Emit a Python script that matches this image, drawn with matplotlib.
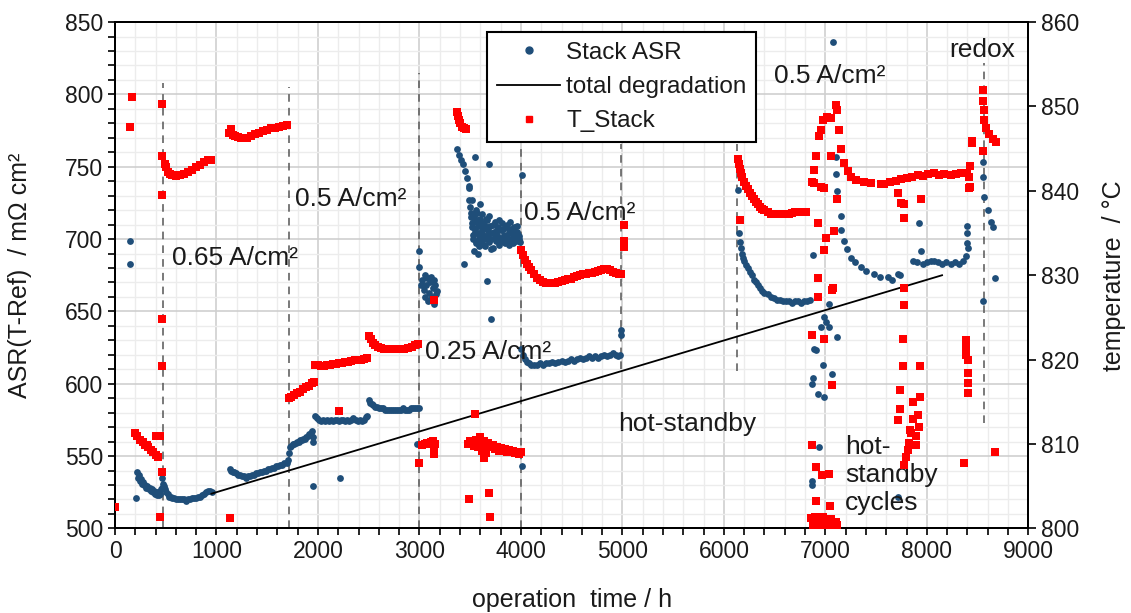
import matplotlib
matplotlib.use("Agg")
import matplotlib.pyplot as plt
from matplotlib.ticker import MultipleLocator
from matplotlib.lines import Line2D

# Stack ASR (left axis), operation time in h and mOhm cm2
asr_hours = [
    148, 150, 205,
    220, 230, 240, 250, 260, 270, 280, 290, 300, 310, 320, 330, 340, 350, 360, 370, 380, 390,
    400, 410, 420, 430, 440, 450, 460, 467, 475,
    485, 495, 505, 520, 535, 550, 565, 580, 600, 620, 640, 660, 680, 700, 720, 740, 760, 780,
    800, 820, 840, 860, 880, 900, 920, 940, 955,
    1130, 1145, 1160, 1175, 1190, 1210, 1230, 1250, 1270, 1290, 1310, 1330, 1350, 1370, 1390,
    1410, 1430, 1450, 1470, 1490, 1510, 1530, 1550, 1570, 1590, 1610, 1630, 1650, 1670, 1690, 1705,
    1712, 1720, 1735, 1750, 1765, 1780, 1795, 1810, 1825, 1840, 1855, 1870, 1885, 1900, 1915,
    1930, 1945, 1950, 1955, 1950,
    1970, 1990, 2010, 2030, 2050, 2070, 2090, 2110, 2130, 2150, 2170, 2190, 2210, 2230, 2250,
    2270, 2290, 2310, 2330, 2350, 2370, 2390, 2410, 2430, 2450, 2470, 2485, 2213,
    2500, 2515, 2530, 2545, 2560, 2580, 2600, 2620, 2640, 2660, 2680, 2700, 2720, 2740, 2760,
    2780, 2800, 2820, 2840, 2860, 2880, 2900, 2920, 2940, 2960, 2980, 2995, 2975,
    2992, 2992, 3030, 3040, 3050, 3060, 3070, 3080, 3090, 3100, 3110, 3120, 3130, 3140, 3150,
    3160, 3050, 3100, 3140, 3170, 3020,
    3370, 3390, 3410, 3430, 3450, 3470, 3490, 3486, 3486, 3550, 3683, 3442, 3667, 3709,
    3500, 3510, 3520, 3530, 3540, 3550, 3560, 3570, 3580, 3590, 3600, 3610, 3620, 3630, 3640,
    3650, 3660, 3670, 3680, 3690, 3700, 3710, 3720, 3730, 3740, 3750, 3760, 3770, 3780, 3790,
    3800, 3810, 3820, 3830, 3840, 3850, 3860, 3870, 3880, 3890, 3900, 3910, 3920, 3930, 3940,
    3950, 3960, 3970, 3980, 3990, 3520, 3560, 3600, 3540, 3580, 4011,
    3505, 3515, 3525, 3535, 3545, 3555, 3565, 3575, 3585, 3595, 3605, 3615, 3625, 3635, 3645,
    3655, 3665, 3675, 3685, 3695, 3705, 3725, 3745, 3765, 3785, 3805, 3825, 3845, 3865, 3885,
    3905, 3925, 3945, 3965, 3985,
    4011, 4000, 4020, 4040, 4060, 4080, 4100, 4130, 4160, 4190, 4220, 4250, 4280, 4310, 4340,
    4370, 4400, 4430, 4460, 4490, 4520, 4550, 4580, 4610, 4640, 4670, 4700, 4730, 4760, 4790,
    4820, 4850, 4880, 4910, 4940, 4960, 4980, 4982, 4982,
    6136, 6150, 6160, 6170, 6180, 6190, 6200, 6220, 6240, 6260, 6280, 6300, 6320, 6340, 6360,
    6380, 6400, 6430, 6460, 6490, 6520, 6550, 6580, 6610, 6640, 6670, 6700, 6730, 6760, 6790,
    6820, 6850,
    6882, 6889, 6879, 6923, 6988, 6978, 7064, 6938, 6873, 6873, 7005, 6955, 7037, 7119, 6906,
    6988, 7040, 6870,
    7071, 7103, 7103, 7119, 7150, 7150, 7183, 7210, 7249, 7290, 7350, 7400, 7481, 7540, 7613,
    7660, 7712, 7740,
    7860, 7900, 7939, 7922, 7960, 8000, 8040, 8072, 8110, 8150, 8190, 8238, 8280, 8320, 8360,
    8386, 8400, 8400, 8400, 8405, 7712,
    8557, 8557, 8567, 8600, 8633, 8649, 8557, 8672]
asr_values = [
    699, 683, 521,
    539, 535, 537, 533, 534, 531, 532, 530, 530, 528, 529, 527, 528, 526, 527, 525, 526, 524,
    525, 523, 525, 523, 524, 527, 528, 535, 531,
    529, 527, 525, 524, 522, 522, 521, 521, 520, 520, 520, 520, 520, 519, 520, 520, 521, 521,
    521, 522, 522, 523, 524, 525, 526, 526, 525,
    541, 540, 539, 539, 538, 537, 537, 536, 536, 535, 536, 536, 537, 537, 538,
    538, 539, 539, 540, 540, 541, 541, 542, 542, 543, 543, 544, 544, 545, 545, 547,
    552, 556, 557, 558, 558, 559, 560, 560, 561, 561, 562, 562, 563, 564, 565,
    566, 567, 560, 563, 529,
    578, 576, 575, 574, 575, 574, 575, 574, 575, 574, 575, 575, 574, 575, 575,
    574, 575, 574, 575, 576, 575, 574, 575, 574, 575, 577, 578, 535,
    589, 587, 586, 585, 584, 584, 583, 583, 583, 582, 582, 582, 582, 582, 582,
    582, 582, 582, 583, 582, 582, 582, 583, 583, 583, 583, 583, 558,
    692, 681, 672, 665, 660, 668, 673, 657, 663, 670, 674, 660, 666, 655, 668,
    662, 675, 658, 672, 664, 668,
    762, 758, 755, 752, 747, 742, 735, 737, 727, 757, 752, 683, 671, 645,
    722, 715, 708, 700, 712, 705, 697, 718, 709, 702, 714, 698, 706, 711, 700,
    695, 707, 713, 703, 698, 709, 700, 694, 705, 712, 699, 703, 708, 696, 701,
    706, 711, 699, 703, 697, 708, 702, 698, 705, 712, 700, 704, 697, 708, 701,
    699, 705, 703, 700, 698, 727, 720, 724, 692, 690, 744,
    718, 711, 703, 716, 707, 699, 713, 704, 695, 710, 701, 717, 703, 696, 709,
    714, 700, 706, 716, 704, 693, 710, 702, 706, 713, 699, 707, 701, 710, 696,
    707, 701, 704, 709, 702,
    543, 624, 620, 617, 615, 614, 613, 613, 613, 614, 613, 614, 614, 615, 614,
    615, 616, 615, 616, 617, 616, 617, 618, 617, 618, 619, 618, 619, 618, 619,
    620, 619, 620, 621, 620, 619, 620, 637, 634,
    734, 704, 698, 694, 690, 687, 685, 682, 680, 677, 675, 672, 670, 668, 666,
    664, 663, 662, 660, 659, 658, 658, 657, 657, 657, 656, 657, 657, 656, 657,
    657, 658,
    689, 624, 604, 593, 591, 613, 607, 556, 533, 530, 643, 639, 639, 632, 623,
    646, 655, 600,
    836, 757, 745, 733, 716, 706, 699, 693, 687, 684, 681, 678, 676, 674, 674,
    672, 676, 675,
    685, 684, 692, 711, 683, 684, 685, 685, 684, 683, 684, 683, 684, 683, 685,
    688, 704, 697, 709, 694, 522,
    753, 743, 729, 720, 712, 708, 657, 673]

# T_Stack (right axis), operation time in h and deg C
stack_hours = [
    0, 165, 150,
    197, 220, 250, 275, 300, 325, 350, 375, 400, 425, 312, 401, 444,
    466, 466, 466, 466, 466, 466, 444,
    490, 500, 520, 540, 560, 600, 640, 680, 720, 760, 800, 840, 880, 920, 950,
    1134,
    1120, 1140, 1160, 1180, 1210, 1240, 1270, 1300, 1340, 1380, 1420, 1460, 1500, 1540, 1580,
    1620, 1660, 1690,
    1710, 1730, 1760, 1790, 1820, 1850, 1880, 1910, 1940, 1960,
    1970, 2000, 2030, 2060, 2090, 2120, 2150, 2180, 2210, 2240, 2270, 2300, 2330, 2360, 2390,
    2420, 2450, 2480, 2204,
    2500, 2520, 2540, 2560, 2590, 2620, 2650, 2690, 2730, 2770, 2810, 2850, 2890, 2930, 2960, 2990,
    2993, 3030, 3050, 3070, 3090, 3110, 3130, 3140, 3140, 3150, 3146,
    3370, 3380, 3390, 3400, 3420, 3440, 3460,
    3551, 3486, 3683, 3699,
    3480, 3500, 3520, 3540, 3560, 3580, 3600, 3610, 3620, 3640, 3650, 3660, 3680, 3700, 3720,
    3740, 3760, 3780, 3800, 3820, 3840, 3860, 3880, 3900, 3920, 3940, 3960, 3980, 4000, 3640,
    4000, 4020, 4040, 4060, 4080, 4100, 4130, 4160, 4190, 4220, 4250, 4280, 4310, 4340, 4370,
    4400, 4430, 4460, 4490, 4520, 4550, 4580, 4610, 4640, 4670, 4700, 4730, 4760, 4790, 4820,
    4850, 4880, 4910, 4940, 4970, 4990, 5015, 5015, 5015,
    6140, 6150, 6160, 6170, 6180, 6200, 6220, 6240, 6260, 6280, 6300, 6320, 6340, 6360, 6380,
    6400, 6430, 6460, 6490, 6520, 6550, 6580, 6610, 6640, 6670, 6700, 6730, 6760, 6790, 6810,
    6156,
    6873, 6889, 6906, 6938, 6955, 6981, 7021, 7054, 7103, 7119, 6889, 6955, 6988, 7055,
    6923, 7005, 7087, 6988, 6923, 7071, 7113,
    7136, 7152, 7185, 7220, 7251, 7300, 7383, 7450, 7547, 7580, 7640, 7700, 7744, 7800, 7850,
    7909, 7960, 8010, 8072, 8120, 8170, 8237, 8290, 8340, 8400, 8416, 8416, 8449, 8425, 8425,
    7712, 7745, 7778, 7939, 7771, 7771, 7946,
    6867, 6988, 7064, 6873, 6906, 7036, 6971, 6906, 7047, 6929, 7064,
    6860, 6880, 6900, 6920, 6940, 6960, 6980, 7000, 7020, 7040, 7060, 7080, 7100, 7119,
    6880, 6920, 6960, 7000, 7040,
    7777, 7777, 7761, 7761, 7935, 7738, 7738, 7718, 7935, 7860, 7909, 7860, 7925, 7836, 7891,
    7826, 7810, 7794, 7777, 7844, 7891,
    8386, 8386, 8386, 8409, 8409, 8409, 8409, 8369, 8672,
    8550, 8550, 8567, 8567, 8583, 8616, 8649, 8682, 8449, 8550]
stack_temp = [
    802.5, 851.1, 847.6,
    811.3, 811.0, 810.5, 810.2, 809.9, 809.6, 809.3, 809.0, 808.7, 808.5, 809.9, 811.0, 810.9,
    850.3, 844.1, 839.5, 824.8, 819.3, 806.7, 801.3,
    843.2, 842.8, 842.2, 842.0, 841.9, 841.8, 841.9, 842.0, 842.2, 842.5, 842.8, 843.1, 843.4,
    843.6, 843.7,
    801.2,
    846.8, 847.3, 846.6, 846.5, 846.4, 846.3, 846.3, 846.3, 846.5, 846.7, 846.9, 847.1, 847.2,
    847.4, 847.5, 847.6, 847.7, 847.8,
    815.5, 815.6, 815.8, 816.0, 816.2, 816.5, 816.7, 816.9, 817.2, 817.3,
    819.4, 819.4, 819.3, 819.3, 819.4, 819.4, 819.5, 819.5, 819.6, 819.6, 819.7, 819.7, 819.8,
    819.9, 819.9, 820.0, 820.1, 820.2, 813.9,
    822.8, 822.4, 822.0, 821.7, 821.5, 821.4, 821.3, 821.3, 821.3, 821.3, 821.3, 821.3, 821.4,
    821.5, 821.7, 821.9,
    807.7, 809.9, 810.0, 810.1, 810.0, 810.2, 810.3, 809.5, 808.8, 810.0, 827.1,
    849.3, 848.9, 848.4, 848.0, 847.6, 847.4, 847.3,
    813.6, 803.5, 804.2, 801.3,
    810.0, 810.3, 810.1, 809.8, 810.5, 809.6, 810.8, 810.0, 809.2, 810.4, 809.5, 808.9, 810.1,
    809.6, 809.9, 809.4, 809.7, 809.2, 809.5, 809.3, 809.4, 809.1, 809.3, 809.0, 809.2, 808.9,
    809.1, 808.8, 809.0, 808.3,
    833.0, 832.4, 831.8, 831.3, 831.0, 830.6, 830.1, 829.7, 829.4, 829.2, 829.1, 829.1, 829.1,
    829.1, 829.2, 829.3, 829.4, 829.5, 829.6, 829.8, 829.9, 830.0, 830.1, 830.2, 830.3, 830.3,
    830.4, 830.5, 830.6, 830.7, 830.7, 830.6, 830.4, 830.3, 830.2, 830.2, 836.0, 834.0, 833.3,
    843.8, 843.2, 842.6, 842.1, 841.6, 841.1, 840.6, 840.2, 839.8, 839.4, 839.0, 838.7, 838.4,
    838.1, 837.9, 837.7, 837.5, 837.3, 837.2, 837.2, 837.3, 837.2, 837.2, 837.3, 837.4, 837.5,
    837.5, 837.5, 837.5, 837.5,
    836.6,
    841.1, 842.5, 844.1, 846.5, 847.2, 848.4, 848.8, 848.6, 850.2, 849.6, 840.9, 840.5, 840.3,
    844.1,
    836.2, 834.4, 835.2, 833.0, 829.7, 828.5, 839.0,
    847.2, 844.9, 843.3, 842.3, 841.7, 841.3, 841.1, 840.9, 840.8, 840.8, 841.0, 841.2, 841.4,
    841.5, 841.7, 841.9, 841.8, 842.0, 842.1, 841.9, 842.0, 841.9, 842.0, 842.1, 842.1, 841.7,
    840.3, 845.7, 842.9, 840.5,
    839.7, 838.6, 836.8, 839.0, 838.4, 828.5, 839.0,
    822.9, 822.5, 817.0, 809.9, 807.3, 806.5, 806.3, 803.2, 802.6, 827.4, 828.3,
    801.2, 800.6, 801.4, 800.3, 801.0, 800.4, 801.3, 800.2, 800.9, 800.5, 801.1, 800.3, 800.8,
    800.4,
    800.1, 800.2, 800.1, 800.2, 800.1,
    828.5, 826.5, 822.5, 819.2, 819.2, 816.4, 814.2, 812.8, 815.6, 815.0, 813.4, 813.0, 812.0,
    811.7, 810.9, 810.1, 809.3, 808.5, 807.5, 811.3, 809.9,
    822.3, 821.5, 820.6, 820.0, 818.4, 817.2, 816.0, 807.7, 809.1,
    852.0, 850.6, 849.6, 848.4, 847.4, 846.7, 846.1, 845.8, 845.9, 844.7]

# total degradation trend line
trend_hours = [950, 8150]
trend_asr = [524, 675]

# dashed markers for load changes / events
event_hours = [470, 1710, 3000, 4000, 4990, 6130, 8560]
event_top = [808, 805, 815, 766, 766, 766, 822]
event_bottom = [500, 500, 500, 500, 610, 609, 573]

# annotations: text, hour, ASR level (left edge, vertically centred)
notes = ["0.65 A/cm²", "0.5 A/cm²", "0.25 A/cm²", "0.5 A/cm²", "0.5 A/cm²",
         "redox", "hot-standby", "hot-\nstandby\ncycles"]
note_hours = [560, 1775, 3057, 4028, 6495, 8221, 4953, 7195]
note_asr = [687, 728, 622, 718, 813, 830.5, 572.5, 537]

BLUE = "#1F4E79"
RED = "#FF0000"
TXT = "#1a1a1a"


def main():
    plt.rcParams["font.family"] = ["Liberation Sans", "DejaVu Sans"]
    fig = plt.figure(figsize=(11.31, 6.13), dpi=100)
    ax = fig.add_axes([0.1017, 0.138, 0.8075, 0.826])
    ax2 = ax.twinx()

    # grid
    ax.set_axisbelow(True)
    ax.xaxis.set_major_locator(MultipleLocator(1000))
    ax.xaxis.set_minor_locator(MultipleLocator(200))
    ax.yaxis.set_major_locator(MultipleLocator(50))
    ax.yaxis.set_minor_locator(MultipleLocator(10))
    ax.grid(which="major", color="#cfcfcf", lw=1.2)
    ax.grid(which="minor", color="#ececec", lw=1.0)

    # event lines
    ax.vlines(event_hours, event_bottom, event_top, colors="#555555",
              linestyles=(0, (5, 4)), lw=1.1, zorder=2)

    ax.scatter(asr_hours, asr_values, s=24, color=BLUE, zorder=3,
               linewidths=0, label="Stack ASR")
    h2, = ax.plot(trend_hours, trend_asr, color="black", lw=1.3, zorder=4,
                  label="total degradation")
    ax2.scatter(stack_hours, stack_temp, s=40, color=RED, marker="s",
                zorder=3, linewidths=0, label="T_Stack")

    ax.set_xlim(0, 9000)
    ax.set_ylim(500, 850)
    ax2.set_ylim(800, 860)
    ax2.yaxis.set_major_locator(MultipleLocator(10))

    for t, h, v in zip(notes, note_hours, note_asr):
        ax.text(h, v, t, ha="left", va="center", fontsize=19, color=TXT,
                zorder=5)

    for a in (ax, ax2):
        for s in a.spines.values():
            s.set_color("black")
            s.set_linewidth(1.4)
    ax.tick_params(which="both", direction="out", length=5, width=1.2,
                   labelsize=16.5, labelcolor=TXT)
    ax2.tick_params(which="both", direction="out", length=6, width=1.2,
                    labelsize=16.5, labelcolor=TXT)

    ax.set_xlabel("operation  time / h", fontsize=18, color=TXT, labelpad=18)
    ax.set_ylabel("ASR(T-Ref)  / mΩ cm²", fontsize=18, color=TXT, labelpad=24)
    ax2.set_ylabel("temperature  / °C", fontsize=18, color=TXT, labelpad=16)

    leg_h = [Line2D([], [], ls="none", marker="o", ms=5, color=BLUE),
             h2,
             Line2D([], [], ls="none", marker="s", ms=5, color=RED)]
    leg = ax2.legend(leg_h, ["Stack ASR", "total degradation", "T_Stack"],
                     loc="upper left", bbox_to_anchor=(0.4075, 0.98),
                     borderaxespad=0, fontsize=17.5, fancybox=False,
                     framealpha=1, edgecolor="black", handlelength=2.6,
                     handletextpad=0.25, labelspacing=0.5, borderpad=0.4)
    leg.get_frame().set_linewidth(1.5)
    for t in leg.get_texts():
        t.set_color(TXT)
    leg.set_zorder(10)

    fig.savefig("out.png", dpi=100)


if __name__ == "__main__":
    main()
